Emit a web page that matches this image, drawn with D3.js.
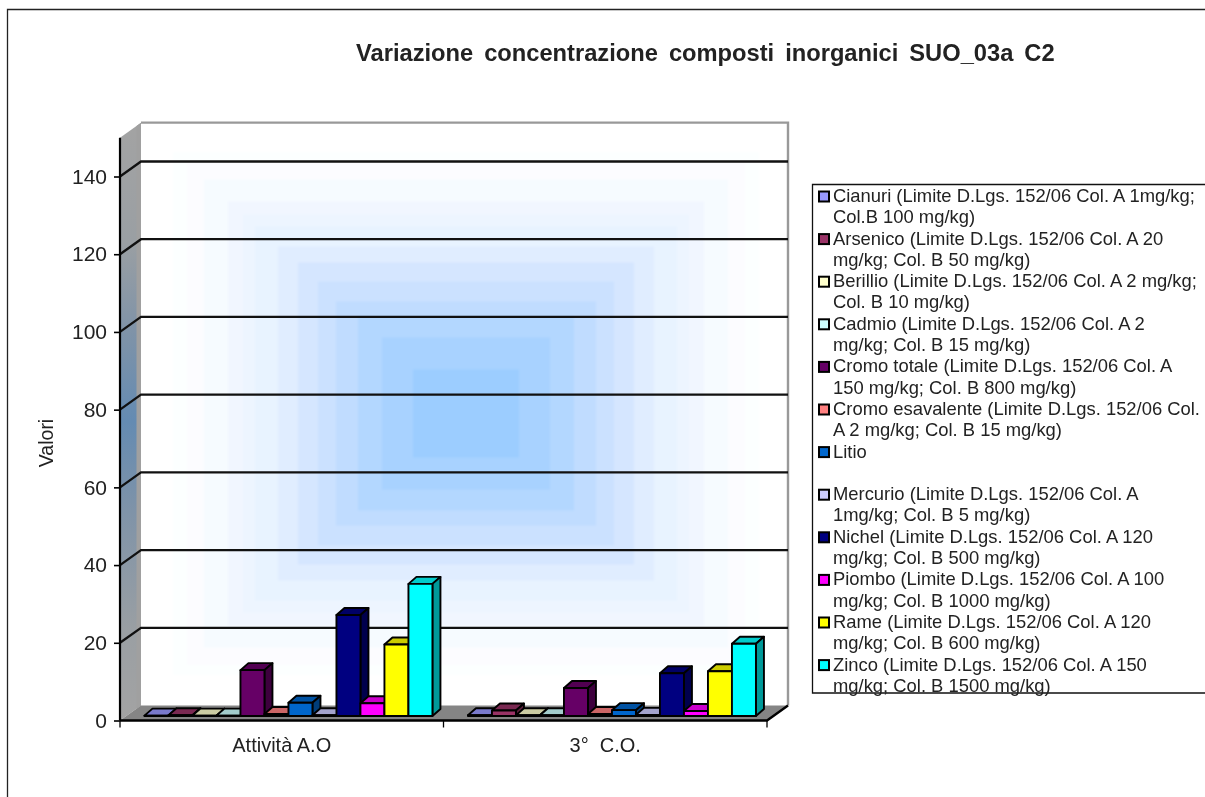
<!DOCTYPE html>
<html><head><meta charset="utf-8">
<script src="https://cdn.jsdelivr.net/npm/d3@7/dist/d3.min.js"></script>
<style>
html,body{margin:0;padding:0;background:#fff;overflow:hidden}
svg{display:block;filter:blur(0.5px)}
text{font-family:"Liberation Sans",Arial,sans-serif;fill:#222;white-space:pre}
</style></head><body>
<svg id="c" width="1205" height="797"></svg>
<script>
const categories = ["Attività A.O", "3°  C.O."];
const seriesNames = [
  ["Cianuri (Limite D.Lgs. 152/06 Col. A 1mg/kg;", "Col.B 100 mg/kg)"],
  ["Arsenico (Limite D.Lgs. 152/06 Col. A 20", "mg/kg; Col. B 50 mg/kg)"],
  ["Berillio (Limite D.Lgs. 152/06 Col. A 2 mg/kg;", "Col. B 10 mg/kg)"],
  ["Cadmio (Limite D.Lgs. 152/06 Col. A 2", "mg/kg; Col. B 15 mg/kg)"],
  ["Cromo totale (Limite D.Lgs. 152/06 Col. A", "150 mg/kg; Col. B 800 mg/kg)"],
  ["Cromo esavalente (Limite D.Lgs. 152/06 Col.", "A 2 mg/kg; Col. B 15 mg/kg)"],
  ["Litio", ""],
  ["Mercurio (Limite D.Lgs. 152/06 Col. A", "1mg/kg; Col. B 5 mg/kg)"],
  ["Nichel (Limite D.Lgs. 152/06 Col. A 120", "mg/kg; Col. B 500 mg/kg)"],
  ["Piombo (Limite D.Lgs. 152/06 Col. A 100", "mg/kg; Col. B 1000 mg/kg)"],
  ["Rame (Limite D.Lgs. 152/06 Col. A 120", "mg/kg; Col. B 600 mg/kg)"],
  ["Zinco (Limite D.Lgs. 152/06 Col. A 150", "mg/kg; Col. B 1500 mg/kg)"]
];
const valuesAttivita = [0.1, 0.2, 0.1, 0.1, 11.8, 0.5, 3.4, 0.2, 26, 3.3, 18.4, 34];
const valuesCO3 = [0.2, 1.4, 0.2, 0.2, 7.2, 0.5, 1.5, 0.3, 11, 1.3, 11.5, 18.6];
const seriesValues = [valuesAttivita, valuesCO3];
const seriesColors = ["#9999ff","#993366","#ffffcc","#ccffff","#660066","#ff8080","#0066cc","#ccccff","#000080","#ff00ff","#ffff00","#00ffff"];
const yTicks = [0,20,40,60,80,100,120,140];
const yMax = 150;

// wall gradient: half-size in px and colour, outer to inner
const wallSteps = [
  [340,310,"#ffffff"],[293,261,"#fcffff"],[279,251,"#fcfcff"],[262,234,"#f6fbff"],
  [238,212,"#f1f6ff"],[223,199,"#edf5ff"],[211,187,"#e8f3ff"],[188,167,"#e0edff"],
  [168,151,"#d5e6ff"],[148,132,"#cbe1ff"],[130,112,"#c0dcff"],[108,97,"#b3d7ff"],
  [84,76,"#a8d2ff"],[53,44,"#9ccdff"]
];

const svg = d3.select("#c");
const DX = 21, DY = 15;
const x0 = 120, x1 = 767, yB = 720.5;
const y = d3.scaleLinear().domain([0,yMax]).range([yB, yB-yMax*544/140]);
const xCat = d3.scaleBand().domain(categories).range([x0,x1]);
const xSer = d3.scaleBand().domain(d3.range(12)).range([0,xCat.bandwidth()]).paddingOuter(0.74);
const barOff = {x:6.7, y:4.5}, barD = {x:8, y:7};
const poly = p => "M"+p.map(q=>q.join(",")).join("L")+"Z";

// frame
svg.append("path").attr("d","M7.5,797V9.5H1205").attr("fill","none").attr("stroke","#222").attr("stroke-width",1.3);

// back wall
const wcx = 466, wcy = 413.5, wall = {l:x0+DX, r:x1+DX, t:y(yMax)-DY, b:yB-DY};
const defs = svg.append("defs");
defs.append("clipPath").attr("id","wc").append("rect").attr("x",wall.l).attr("y",wall.t).attr("width",wall.r-wall.l).attr("height",wall.b-wall.t);
svg.append("g").attr("clip-path","url(#wc)").append("g").style("filter","blur(1.2px)").selectAll("rect").data(wallSteps).join("rect")
  .attr("x",d=>wcx-d[0]).attr("y",d=>wcy-d[1]).attr("width",d=>2*d[0]).attr("height",d=>2*d[1]).attr("fill",d=>d[2]);
svg.append("path").attr("d",`M${wall.l},${wall.t}H${wall.r}V${wall.b}`).attr("fill","none").attr("stroke","#999").attr("stroke-width",2.4);

// side wall
const sg = defs.append("linearGradient").attr("id","side").attr("x1",0).attr("x2",0).attr("y1",0).attr("y2",1);
[[0,"#a3a3a3"],[0.2,"#9a9fa3"],[0.35,"#7f93a8"],[0.5,"#648bb2"],[0.65,"#7f93a8"],[0.85,"#9a9fa3"],[1,"#a3a3a3"]]
  .forEach(s=>sg.append("stop").attr("offset",s[0]).attr("stop-color",s[1]));
const sidePath = poly([[x0,y(yMax)],[x0+DX,y(yMax)-DY],[x0+DX,yB-DY],[x0,yB]]);
defs.append("clipPath").attr("id","sc").append("path").attr("d",sidePath);
svg.append("path").attr("d",sidePath).attr("fill","url(#side)");
svg.append("rect").attr("clip-path","url(#sc)").attr("x",x0+DX-4.5).attr("y",y(yMax)-DY).attr("width",4.5).attr("height",yB-y(yMax)+DY).attr("fill","#a0a0a0");

// floor
svg.append("path").attr("d",poly([[x0,yB],[x0+DX,yB-DY],[x1+DX,yB-DY],[x1,yB]])).attr("fill","#858585");

// gridlines
const gridVals = yTicks.slice(1);
svg.append("g").selectAll("path").data(gridVals).join("path")
  .attr("d",d=>`M${x0},${y(d)}L${x0+DX},${y(d)-DY}H${x1+DX}`)
  .attr("fill","none").attr("stroke","#111").attr("stroke-width",2.3);

// bars
const rgbScale=(c,k)=>{const r=d3.rgb(c);return d3.rgb(r.r*k,r.g*k,r.b*k).formatHex();};
const bars=[];
categories.forEach((c,ci)=>seriesValues[ci].forEach((v,si)=>bars.push({c,si,v})));
const gb = svg.append("g").attr("stroke","#000").attr("stroke-width",1.9).attr("stroke-linejoin","round");
const bar = gb.selectAll("g").data(bars).join("g");
const L = d=>xCat(d.c)+xSer(d.si)+barOff.x, R = d=>L(d)+xSer.bandwidth();
const B = d=>yB-barOff.y, T = d=>y(d.v)-barOff.y;
bar.append("path").attr("fill",d=>rgbScale(seriesColors[d.si],0.8))
  .attr("d",d=>poly([[L(d),T(d)],[L(d)+barD.x,T(d)-barD.y],[R(d)+barD.x,T(d)-barD.y],[R(d),T(d)]]));
bar.append("path").attr("fill",d=>rgbScale(seriesColors[d.si],0.6))
  .attr("d",d=>poly([[R(d),T(d)],[R(d)+barD.x,T(d)-barD.y],[R(d)+barD.x,B(d)-barD.y],[R(d),B(d)]]));
bar.append("rect").attr("fill",d=>seriesColors[d.si])
  .attr("x",L).attr("y",T).attr("width",xSer.bandwidth()).attr("height",d=>B(d)-T(d));

// floor edges
svg.append("path").attr("d",`M${x0},${yB}H${x1}L${x1+DX},${yB-DY}`).attr("fill","none").attr("stroke","#000").attr("stroke-width",2.4);

// axes
const yAxis = svg.append("g").attr("transform",`translate(${x0},0)`)
  .call(d3.axisLeft(y).tickValues(yTicks).tickSize(6).tickPadding(7).tickFormat(d3.format("d")));
yAxis.select(".domain").attr("stroke","#000").attr("stroke-width",2.2).attr("d",`M0,${y(yMax)}V${yB}`);
yAxis.selectAll(".tick line").attr("stroke","#000").attr("stroke-width",1.6);
yAxis.selectAll("text").style("font-size","21px").style("font-family",'"Liberation Sans"').attr("fill","#222");

const xAxis = svg.append("g").attr("transform",`translate(0,${yB})`)
  .call(d3.axisBottom(xCat).tickSize(0).tickPadding(17));
xAxis.select(".domain").remove();
xAxis.selectAll("text").style("font-size","20px").style("font-family",'"Liberation Sans"').attr("fill","#222");
svg.append("g").selectAll("line").data([x0, x0+xCat.step(), x1]).join("line")
  .attr("x1",d=>d).attr("x2",d=>d).attr("y1",yB).attr("y2",yB+7).attr("stroke","#000").attr("stroke-width",1.3);

// axis title
svg.append("text").attr("transform","translate(53,443) rotate(-90)").attr("text-anchor","middle").style("font-size","19.5px").text("Valori");

// title
svg.append("text").attr("x",356).attr("y",61).style("font-size","23.7px").style("font-weight","bold").style("word-spacing","4.4px").attr("fill","#111")
  .text("Variazione concentrazione composti inorganici SUO_03a C2");

// legend
svg.append("path").attr("d","M1205,184.5H812.5V693H1205").attr("fill","#fff").attr("stroke","#111").attr("stroke-width",1.3);
const lineH = 21.3, ly0 = 196;
const lg = svg.append("g").selectAll("g").data(seriesNames).join("g")
  .attr("transform",(d,i)=>`translate(0,${ly0+i*2*lineH})`);
lg.append("rect").attr("x",819).attr("y",-4.5).attr("width",10).attr("height",10).attr("fill",(d,i)=>seriesColors[i]).attr("stroke","#000").attr("stroke-width",2);
lg.append("text").attr("x",833).attr("y",6).style("font-size","18.4px").text(d=>d[0]);
lg.append("text").attr("x",833).attr("y",6+lineH).style("font-size","18.4px").text(d=>d[1]);
</script>
</body></html>
